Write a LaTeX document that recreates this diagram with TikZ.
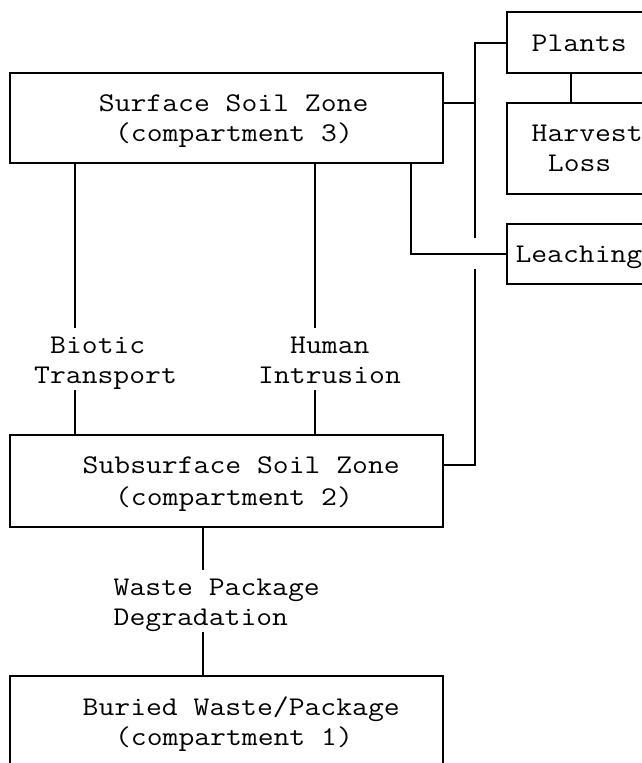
\documentclass[tikz,border=0pt]{standalone}
\usepackage{fontspec}
\newfontfamily\courlike[FakeStretch=1.14]{Latin Modern Mono}
\begin{document}
\begin{tikzpicture}[x=1pt,y=-1pt,
  box/.style={draw,line width=1.8pt,inner sep=0pt,rectangle},
  lbl/.style={anchor=base west,inner sep=0pt,font=\courlike\fontsize{27}{30}\selectfont},
  wire/.style={line width=1.8pt}]
\useasboundingbox (0,0) rectangle (642,763);
\clip (0,0) rectangle (642,763);
% boxes
\node[box,minimum width=433pt,minimum height=90pt] (surf) at (226.5,118) {};
\node[box,minimum width=433pt,minimum height=92pt] (sub) at (226.5,481) {};
\node[box,minimum width=433pt,minimum height=140pt] (bur) at (226.5,746) {};
\node[box,minimum width=213pt,minimum height=61pt] (plants) at (613.5,42.5) {};
\node[box,minimum width=213pt,minimum height=91pt] (harv) at (613.5,148.5) {};
\node[box,minimum width=213pt,minimum height=60pt] (leach) at (613.5,254) {};
% texts
\node[lbl] (tp) at (531.5,51) {Plants};
\node[lbl] (th1) at (531.5,141) {Harvest};
\node[lbl] (th2) at (547.7,171) {Loss};
\node[lbl] (tl) at (515.3,262) {Leaching};
\node[lbl] (ts1) at (98.7,111) {Surface Soil Zone};
\node[lbl] (ts2) at (114.9,141) {(compartment 3)};
\node[lbl] (tb1) at (50,353) {Biotic};
\node[lbl] (tb2) at (34,383) {Transport};
\node[lbl] (th3) at (290,353) {Human};
\node[lbl] (th4) at (258,383) {Intrusion};
\node[lbl] (tu1) at (82.5,473) {Subsurface Soil Zone};
\node[lbl] (tu2) at (114.9,505) {(compartment 2)};
\node[lbl] (tw1) at (113.5,595) {Waste Package};
\node[lbl] (tw2) at (113.5,625) {Degradation};
\node[lbl] (tr1) at (82.5,715) {Buried Waste/Package};
\node[lbl] (tr2) at (114.9,745) {(compartment 1)};
% coordinates
\coordinate (vx) at (475,103);
\coordinate (vtop) at (475,43);
\coordinate (vgap1) at (475,238);
\coordinate (vgap2) at (475,269);
\coordinate (vbot) at (475,465);
\coordinate (lx) at (411,254);
\coordinate (bt) at (75,328);
\coordinate (bb) at (75,390);
\coordinate (ht) at (315,328);
\coordinate (hb) at (315,390);
\coordinate (wt) at (203,570);
\coordinate (wb) at (203,632);
\coordinate (px) at (571,0);
% connectors
\draw[wire] (surf.east |- vx) -- (vx);
\draw[wire] (plants.west |- vtop) -- (vtop) -- (vgap1);
\draw[wire] (vgap2) -- (vbot) -- (sub.east |- vbot);
\draw[wire] (px |- plants.south) -- (px |- harv.north);
\draw[wire] (lx |- surf.south) -- (lx) -- (leach.west |- lx);
\draw[wire] (bt |- surf.south) -- (bt);
\draw[wire] (bb) -- (bb |- sub.north);
\draw[wire] (ht |- surf.south) -- (ht);
\draw[wire] (hb) -- (hb |- sub.north);
\draw[wire] (wt |- sub.south) -- (wt);
\draw[wire] (wb) -- (wb |- bur.north);
\end{tikzpicture}
\end{document}
